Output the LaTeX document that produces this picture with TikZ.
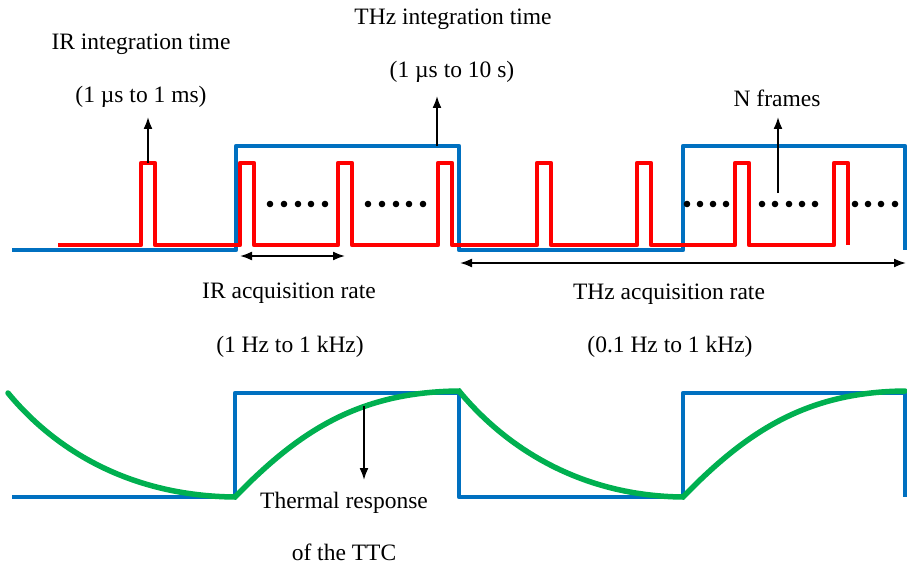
\documentclass[tikz,border=0pt]{standalone}
\usepackage{fontspec}
\setmainfont{Liberation Serif}
\usepackage{xcolor}
\usepackage{tikz}
\usetikzlibrary{arrows.meta,positioning}
\definecolor{sigblue}{RGB}{0,112,192}
\definecolor{sigred}{RGB}{255,0,0}
\definecolor{siggreen}{RGB}{0,176,80}
\tikzset{
  thzgate/.style={draw=sigblue, line width=4.8pt, line join=round},
  irframe/.style={draw=sigred, line width=4.5pt, line join=round},
  ttcresp/.style={draw=siggreen, line width=5.5pt, line cap=round},
  pointer/.style={-{Latex[length=12pt,width=9pt]}, line width=1.8pt},
  span/.style={{Latex[length=12pt,width=9pt]}-{Latex[length=12pt,width=9pt]}, line width=1.8pt},
  lbl/.style={anchor=base, inner sep=0pt, font=\fontsize{23.5}{28}\selectfont}
}

\begin{document}
\begin{tikzpicture}[x=1pt,y=-1pt]
  \useasboundingbox (0,0) rectangle (907,567);

  % top: THz gate and IR frames
  \draw[thzgate] (12,250) -- (236,250) -- (236,146) -- (459,146) -- (459,250) -- (683,250) -- (683,146) -- (905,146) -- (905,250);
  \draw[irframe] (58,245) -- (141,245) -- (141,163) -- (155,163) -- (155,245)
    -- (240,245) -- (240,163) -- (254,163) -- (254,245)
    -- (338,245) -- (338,163) -- (352,163) -- (352,245)
    -- (438,245) -- (438,163) -- (452,163) -- (452,245)
    -- (537,245) -- (537,163) -- (551,163) -- (551,245)
    -- (637,245) -- (637,163) -- (651,163) -- (651,245)
    -- (735,245) -- (735,163) -- (749,163) -- (749,245)
    -- (834,245) -- (834,163) -- (848,163) -- (848,245);

  \fill (270,204) circle (3.3pt) (284,204) circle (3.3pt) (298,204) circle (3.3pt) (311,204) circle (3.3pt) (325,204) circle (3.3pt);
  \fill (368,204) circle (3.3pt) (382,204) circle (3.3pt) (396,204) circle (3.3pt) (409,204) circle (3.3pt) (423,204) circle (3.3pt);
  \fill (687,204) circle (3.3pt) (700,204) circle (3.3pt) (713,204) circle (3.3pt) (726,204) circle (3.3pt);
  \fill (762,204) circle (3.3pt) (775,204) circle (3.3pt) (789,204) circle (3.3pt) (802,204) circle (3.3pt) (815,204) circle (3.3pt);
  \fill (855,204) circle (3.3pt) (868,204) circle (3.3pt) (881,204) circle (3.3pt) (895,204) circle (3.3pt);

  % labels
  \node[lbl] (irlabel) at (141,50) {IR integration time};
  \node[lbl] (irrange) at (141,103) {(1 µs to 1 ms)};
  \node[lbl] (thzlabel) at (453,25) {THz integration time};
  \node[lbl] (thzrange) at (452,78) {(1 µs to 10 s)};
  \node[lbl] (nframes) at (777,107) {N frames};
  \node[lbl] (iracq) at (289,298) {IR acquisition rate};
  \node[lbl] (irrate) at (290,352) {(1 Hz to 1 kHz)};
  \node[lbl] (thzacq) at (669,299) {THz acquisition rate};
  \node[lbl] (thzrate) at (670,352) {(0.1 Hz to 1 kHz)};
  \node[lbl] (thermal) at (344,508) {Thermal response};
  \node[lbl] (ttc) at (344,560) {of the TTC};

  % arrow ends
  \coordinate (irpulse) at (148,163);
  \coordinate (irtip) at (148,117);
  \coordinate (thzgatetop) at (437,146);
  \coordinate (thztip) at (437,96);
  \coordinate (framedots) at (778,193);
  \coordinate (frametip) at (778,117);
  \coordinate (irstart) at (240,256);
  \coordinate (irend) at (345,256);
  \coordinate (thzstart) at (460,263);
  \coordinate (thzend) at (906,263);
  \coordinate (respcurve) at (364,406);
  \coordinate (resptip) at (364,480);

  \draw[pointer] (irpulse) -- (irtip);
  \draw[pointer] (thzgatetop) -- (thztip);
  \draw[pointer] (framedots) -- (frametip);
  \draw[span] (irstart) -- (irend);
  \draw[span] (thzstart) -- (thzend);

  % bottom: THz gate and thermal response
  \draw[thzgate] (12,497) -- (235,497) -- (235,393) -- (459,393) -- (459,497) -- (683,497) -- (683,393) -- (905,393) -- (905,497);
  \draw[ttcresp] (8,393) .. controls (55,450) and (130,496) .. (235,497)
    .. controls (300,430) and (360,392) .. (459,391)
    .. controls (506,448) and (581,496) .. (683,497)
    .. controls (748,430) and (808,392) .. (905,391);
  \draw[pointer] (respcurve) -- (resptip);
\end{tikzpicture}
\end{document}
